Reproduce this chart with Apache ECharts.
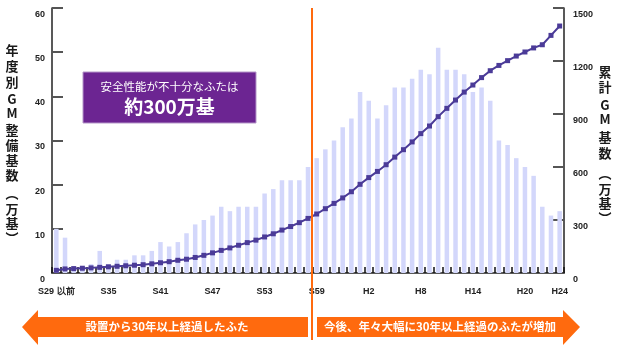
<!DOCTYPE html>
<html>
<head>
<meta charset="utf-8">
<script src="https://cdn.jsdelivr.net/npm/echarts@6/dist/echarts.min.js"></script>
<style>
  html, body { margin: 0; padding: 0; background: #ffffff; }
  #chart { width: 620px; height: 348px; }
</style>
</head>
<body>
<div id="chart"></div>
<script>
// 年度（昭和29年以前〜平成24年）
const categories = [
  'S29 以前', 'S30', 'S31', 'S32', 'S33', 'S34', 'S35', 'S36', 'S37', 'S38',
  'S39', 'S40', 'S41', 'S42', 'S43', 'S44', 'S45', 'S46', 'S47', 'S48',
  'S49', 'S50', 'S51', 'S52', 'S53', 'S54', 'S55', 'S56', 'S57', 'S58',
  'S59', 'S60', 'S61', 'S62', 'S63', 'H1', 'H2', 'H3', 'H4', 'H5',
  'H6', 'H7', 'H8', 'H9', 'H10', 'H11', 'H12', 'H13', 'H14', 'H15',
  'H16', 'H17', 'H18', 'H19', 'H20', 'H21', 'H22', 'H23', 'H24'
];

// 年度別GM整備基数（万基）
const annualCount = [
  10, 8, 1, 1, 2, 5, 2, 3, 3, 4,
  4, 5, 7, 6, 7, 9, 11, 12, 13, 15,
  14, 15, 15, 15, 18, 19, 21, 21, 21, 24,
  26, 28, 30, 33, 35, 41, 39, 35, 38, 42,
  42, 44, 46, 45, 51, 46, 46, 45, 41, 42,
  39, 30, 29, 26, 24, 22, 15, 13, 14
];

// 累計GM基数（万基）
const cumulativeCount = [
  15, 23, 25, 27, 29, 32, 35, 38, 41, 44,
  47, 52, 58, 64, 72, 78, 88, 100, 114, 128,
  142, 157, 172, 186, 204, 222, 243, 263, 285, 309,
  334, 364, 394, 425, 460, 502, 540, 575, 613, 656,
  698, 742, 789, 832, 885, 932, 979, 1024, 1064, 1106,
  1145, 1175, 1202, 1228, 1251, 1274, 1292, 1345, 1398
];

// 目盛
const leftTicks = { min: 0, max: 60, interval: 10 };
const rightTicks = { min: 0, max: 1500, interval: 300 };

// 軸ラベルを表示する年度
const labeledYears = ['S29 以前', 'S35', 'S41', 'S47', 'S53', 'S59', 'H2', 'H8', 'H14', 'H20', 'H24'];

// 30年経過の境目（S58とS59の間）
const boundaryFrom = 'S58';
const boundaryTo = 'S59';

const leftTitle = Array.from('年度別GM整備基数︵万基︶');
const rightTitle = Array.from('累計GM基数︵万基︶');
// 縦書き各文字の中心位置
const leftTitleY = [50, 66, 82, 99, 113, 130, 145, 160, 175, 193, 209, 223, 238];
const rightTitleY = [72, 87, 105, 119, 137, 153, 173, 189, 203, 218];

const JP = '"Noto Sans CJK JP", "Noto Sans", sans-serif';
const NUM = '"Liberation Sans", Arial, sans-serif';
const ORANGE = '#ff6a0e';
const TICK = '#555555';

const chart = echarts.init(document.getElementById('chart'), null, { renderer: 'canvas' });

function verticalText(chars, ys, cx) {
  return chars.map((ch, i) => ({
    type: 'text',
    style: {
      text: ch, x: cx, y: ys[i],
      align: 'center', verticalAlign: 'middle',
      font: 'bold 13px ' + JP, fill: '#1a1a1a'
    },
    z: 20
  }));
}

const option = {
  animation: false,
  grid: { left: 52, right: 56, top: 8, bottom: 75 },
  xAxis: {
    type: 'category',
    data: categories,
    boundaryGap: true,
    axisLine: { lineStyle: { color: '#222', width: 1.5 } },
    axisTick: { show: true, inside: true, length: 6, interval: 0, lineStyle: { color: '#111', width: 1.5 } },
    axisLabel: {
      interval: (i, v) => labeledYears.includes(v),
      margin: 14,
      color: '#222',
      fontFamily: NUM,
      fontWeight: 'bold',
      fontSize: 9
    },
    splitLine: { show: false }
  },
  yAxis: [
    {
      type: 'value',
      min: leftTicks.min, max: leftTicks.max, interval: leftTicks.interval,
      axisLine: { show: true, lineStyle: { color: '#222', width: 1.5 } },
      axisTick: { show: true, inside: true, length: 11, lineStyle: { color: TICK, width: 2 } },
      axisLabel: {
        margin: 7, color: '#222', fontFamily: NUM, fontWeight: 'bold', fontSize: 9,
        verticalAlign: 'top', padding: [2, 0, 0, 0]
      },
      splitLine: { show: false }
    },
    {
      type: 'value',
      position: 'right',
      min: rightTicks.min, max: rightTicks.max, interval: rightTicks.interval,
      axisLine: { show: true, lineStyle: { color: '#222', width: 1.5 } },
      axisTick: { show: true, inside: true, length: 11, lineStyle: { color: TICK, width: 2 } },
      axisLabel: {
        margin: 9, color: '#222', fontFamily: NUM, fontWeight: 'bold', fontSize: 9,
        verticalAlign: 'top', padding: [2, 0, 0, 0],
        formatter: (v) => String(v)
      },
      splitLine: { show: false }
    }
  ],
  series: [
    {
      name: '年度別GM整備基数',
      type: 'bar',
      yAxisIndex: 0,
      data: annualCount,
      barWidth: 4.5,
      itemStyle: { color: '#d3d7fb' },
      z: 1
    },
    {
      name: '累計GM基数',
      type: 'line',
      yAxisIndex: 1,
      data: cumulativeCount,
      symbol: 'rect',
      symbolSize: 5,
      lineStyle: { color: '#4b3b98', width: 2 },
      itemStyle: { color: '#4b3b98' },
      z: 3
    }
  ],
  graphic: []
};

chart.setOption(option);

// 境目の縦線位置を軸から求める
const xa = chart.convertToPixel({ xAxisIndex: 0 }, boundaryFrom);
const xb = chart.convertToPixel({ xAxisIndex: 0 }, boundaryTo);
const bx = Math.round((xa + xb) / 2);

const graphics = [
  // 説明ボックス
  {
    type: 'rect',
    shape: { x: 83, y: 72, width: 173, height: 51 },
    style: { fill: '#6c2592', stroke: '#b597c9', lineWidth: 1 },
    z: 10
  },
  {
    type: 'text',
    style: {
      text: '安全性能が不十分なふたは', x: 169.5, y: 87,
      align: 'center', verticalAlign: 'middle',
      font: '11.5px ' + JP, fill: '#ffffff'
    },
    z: 11
  },
  {
    type: 'text',
    style: {
      text: '約300万基', x: 169.5, y: 107,
      align: 'center', verticalAlign: 'middle',
      font: 'bold 19px ' + JP, fill: '#ffffff'
    },
    z: 11
  },
  // 左向き矢印
  {
    type: 'polygon',
    shape: { points: [[22, 327], [38, 310], [38, 317], [308, 317], [308, 337], [38, 337], [38, 345]] },
    style: { fill: ORANGE },
    z: 10
  },
  {
    type: 'text',
    style: {
      text: '設置から30年以上経過したふた', x: 167, y: 327,
      align: 'center', verticalAlign: 'middle',
      font: 'bold 11.5px ' + JP, fill: '#ffffff'
    },
    z: 11
  },
  // 右向き矢印
  {
    type: 'polygon',
    shape: { points: [[317, 317], [563, 317], [563, 310], [580, 327], [563, 345], [563, 337], [317, 337]] },
    style: { fill: ORANGE },
    z: 10
  },
  {
    type: 'text',
    style: {
      text: '今後、年々大幅に30年以上経過のふたが増加', x: 440, y: 327,
      align: 'center', verticalAlign: 'middle',
      font: 'bold 11.5px ' + JP, fill: '#ffffff'
    },
    z: 11
  },
  // 30年経過の境目
  {
    type: 'line',
    shape: { x1: bx, y1: 8, x2: bx, y2: 340 },
    style: { stroke: ORANGE, lineWidth: 2 },
    z: 12
  }
].concat(verticalText(leftTitle, leftTitleY, 12), verticalText(rightTitle, rightTitleY, 605));

chart.setOption({ graphic: graphics });
</script>
</body>
</html>
